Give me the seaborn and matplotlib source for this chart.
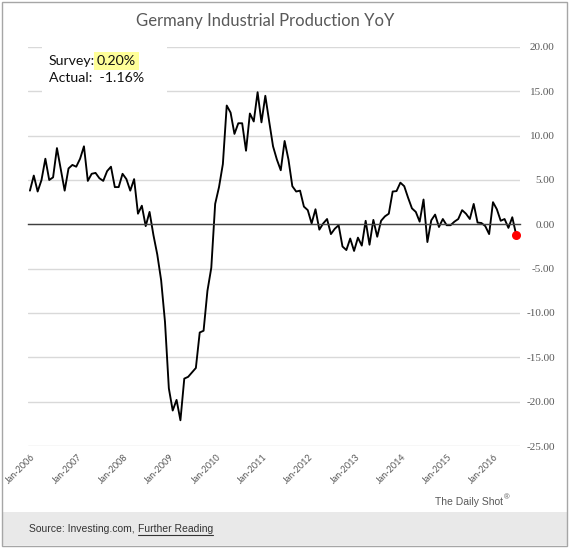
import numpy as np
import pandas as pd
import matplotlib
matplotlib.use("Agg")
import matplotlib.pyplot as plt
import seaborn as sns
from matplotlib.patches import Rectangle
from matplotlib.lines import Line2D

# Monatswerte Jan 2006 - Jul 2016
yoy_values = [
    3.8, 5.5, 3.7, 5.0, 7.4, 5.0, 5.3, 8.6, 6.2, 3.8, 6.3, 6.7,          # 2006
    6.5, 7.4, 8.8, 4.9, 5.7, 5.8, 5.2, 4.9, 6.0, 6.5, 4.2, 4.2,          # 2007
    5.7, 5.1, 3.8, 5.1, 1.2, 2.1, -0.2, 1.4, -1.2, -3.4, -6.3, -11.0,    # 2008
    -18.5, -21.0, -19.8, -22.1, -17.4, -17.2, -16.7, -16.2, -12.2, -12.0, -7.5, -4.9,  # 2009
    2.3, 4.2, 6.8, 13.4, 12.6, 10.2, 11.4, 11.4, 8.3, 12.5, 11.6, 14.9,  # 2010
    11.5, 14.5, 11.6, 8.8, 7.3, 6.1, 9.4, 7.3, 4.3, 3.7, 3.8, 2.0,       # 2011
    1.6, 0.1, 1.7, -0.6, 0.1, 0.6, -1.1, -0.5, -0.1, -2.5, -2.9, -1.6,   # 2012
    -3.0, -1.5, -2.4, 0.4, -2.3, 0.5, -1.4, 0.4, 0.9, 1.2, 3.7, 3.75,    # 2013
    4.7, 4.3, 3.0, 1.8, 1.4, 0.3, 2.8, -2.0, 0.45, 1.1, -0.3, 0.6,       # 2014
    -0.1, -0.1, 0.3, 0.6, 1.6, 1.2, 0.6, 2.3, 0.2, 0.15, -0.2, -1.1,     # 2015
    2.5, 1.7, 0.4, 0.6, -0.4, 0.8, -1.16,                                # 2016
]
months = pd.date_range("2006-01-01", periods=len(yoy_values), freq="MS")
year_labels = ["Jan-2006", "Jan-2007", "Jan-2008", "Jan-2009", "Jan-2010", "Jan-2011",
               "Jan-2012", "Jan-2013", "Jan-2014", "Jan-2015", "Jan-2016"]
y_ticks = [20, 15, 10, 5, 0, -5, -10, -15, -20, -25]
y_tick_labels = [f"{v:.2f}" for v in y_ticks]
survey_value = "0.20%"
actual_value = "-1.16%"

df = pd.DataFrame({"month": months, "yoy": yoy_values})
df["idx"] = np.arange(len(df))

sns.set_style("white")
plt.rcParams["font.family"] = ["Lato", "DejaVu Sans"]

W, H = 570, 549
fig = plt.figure(figsize=(W / 100, H / 100), dpi=100)


def fx(px):
    return px / W


def fy(py):
    return 1 - py / H


ax = fig.add_axes([fx(28), fy(446), fx(520) - fx(28), fy(47) - fy(446)])

# Linie + roter Punkt am Ende
sns.lineplot(data=df, x="idx", y="yoy", color="black", linewidth=1.35, ax=ax)
last = df.iloc[-1]
ax.scatter([last["idx"]], [last["yoy"]], color="red", s=30, zorder=5)

ax.set_xlim(-0.5, 127)
ax.set_ylim(-25, 20)
ax.set_xlabel("")
ax.set_ylabel("")

# Gitter und Achsen im Excel-Stil
ax.set_yticks(y_ticks)
ax.set_yticklabels(y_tick_labels, family=["Liberation Serif"], fontsize=8, color="#595959")
ax.yaxis.tick_right()
ax.tick_params(axis="y", length=0, pad=25)
for lbl in ax.get_yticklabels():
    lbl.set_horizontalalignment("right")
ax.grid(axis="y", color="#d9d9d9", linewidth=1)
ax.grid(axis="x", visible=False)

for side in ["top", "left", "right"]:
    ax.spines[side].set_visible(False)
ax.spines["bottom"].set_position(("data", 0))
ax.spines["bottom"].set_color("#404040")
ax.spines["bottom"].set_linewidth(1)

tick_pos = [df.index[df["month"] == pd.Timestamp(l.replace("Jan-", "") + "-01-01")][0] - 0.5
            for l in year_labels]
ax.set_xticks(tick_pos)
ax.tick_params(axis="x", direction="inout", length=5, width=1, color="#404040", labelbottom=False)

for pos, lab in zip(tick_pos, year_labels):
    ax.text(pos + 1.6, -0.025, lab, transform=ax.get_xaxis_transform(), rotation=45,
            rotation_mode="anchor", ha="right", va="center", fontsize=6.5, color="#595959")

# Titel
fig.text(fx(265), fy(21), "Germany Industrial Production YoY", ha="center", va="center",
         fontsize=12, color="#595959")

# Textfeld Survey / Actual (weiss hinterlegt, verdeckt Gitterlinien)
fig.patches.append(Rectangle((fx(42), fy(100)), fx(167) - fx(42), fy(38) - fy(100),
                             transform=fig.transFigure, facecolor="white", edgecolor="none", zorder=2))
fig.text(fx(49), fy(61), "Survey:", ha="left", va="center", fontsize=10.2, color="#111111", zorder=3)
fig.text(fx(97), fy(61), survey_value, ha="left", va="center", fontsize=10.2, color="#111111", zorder=3,
         bbox=dict(boxstyle="square,pad=0.2", facecolor="#ffff99", edgecolor="none"))
fig.text(fx(49), fy(78), "Actual:  " + actual_value, ha="left", va="center", fontsize=10.2,
         color="#111111", zorder=3)

# Fusszeile
fig.text(fx(503), fy(502), "The Daily Shot", ha="right", va="center", fontsize=7.5,
         color="#595959", family=["Liberation Sans"])
fig.text(fx(504), fy(498), "®", ha="left", va="center", fontsize=5.5, color="#595959",
         family=["Liberation Sans"])

fig.patches.append(Rectangle((fx(2), fy(545)), fx(567) - fx(2), fy(512) - fy(545),
                             transform=fig.transFigure, facecolor="#e9e9e9", edgecolor="none", zorder=0))
fig.patches.append(Rectangle((fx(2), fy(546)), fx(567) - fx(2), fy(2) - fy(546),
                             transform=fig.transFigure, facecolor="none", edgecolor="#a6a6a6",
                             linewidth=1, zorder=4))

t1 = fig.text(fx(29), fy(529), "Source: Investing.com, ", ha="left", va="center", fontsize=7.5,
              color="#333333", family=["Liberation Sans"])
fig.canvas.draw()
renderer = fig.canvas.get_renderer()
bb1 = t1.get_window_extent(renderer)
x2 = bb1.x1 / W
t2 = fig.text(x2, fy(529), "Further Reading", ha="left", va="center", fontsize=7.5,
              color="#333333", family=["Liberation Sans"])
bb2 = t2.get_window_extent(renderer)
fig.lines.append(Line2D([bb2.x0 / W, bb2.x1 / W], [(bb2.y0 - 0.5) / H, (bb2.y0 - 0.5) / H],
                        transform=fig.transFigure, color="#333333", linewidth=0.8))

fig.savefig("out.png", dpi=100)
